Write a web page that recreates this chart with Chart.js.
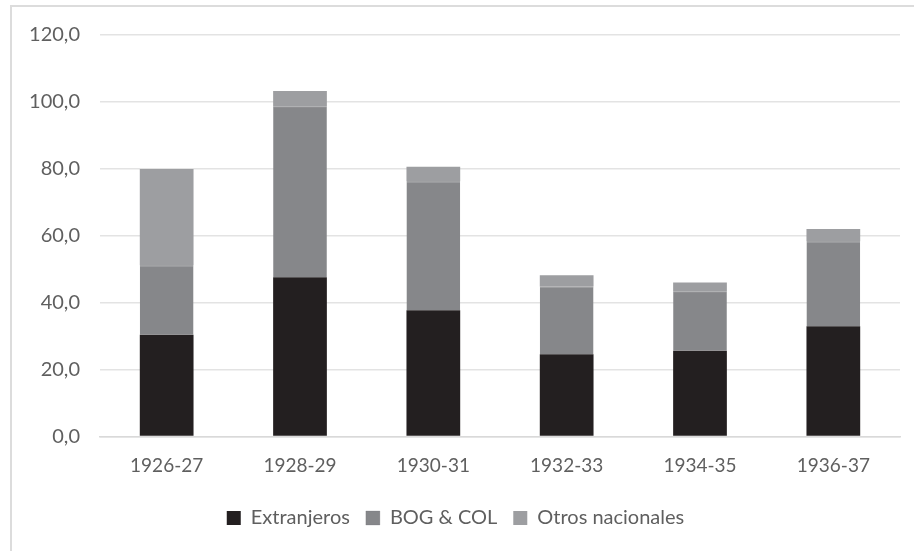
<!DOCTYPE html>
<html>
<head>
<meta charset="utf-8">
<script src="https://cdn.jsdelivr.net/npm/chart.js@4"></script>
<style>
  html, body { margin: 0; padding: 0; background: #fff; }
  #wrap { position: relative; width: 914px; height: 551px; overflow: hidden; }
  #frame { position: absolute; left: 10px; top: 5px; width: 1200px; height: 1200px;
           border-left: 2px solid #dcdcdc; border-top: 2px solid #dcdcdc; }
  #c { position: absolute; left: 0; top: 0; }
</style>
</head>
<body>
<div id="wrap">
  <div id="frame"></div>
  <canvas id="c" width="914" height="551"></canvas>
</div>
<script>
const categories = ['1926-27', '1928-29', '1930-31', '1932-33', '1934-35', '1936-37'];
const extranjeros = [30.4, 47.5, 37.7, 24.6, 25.6, 32.9];
const bogCol = [20.7, 50.9, 38.5, 20.2, 17.6, 25.4];
const otrosNacionales = [28.7, 4.7, 4.3, 3.3, 2.8, 3.6];
const yTicks = [0, 20, 40, 60, 80, 100, 120];

const FONT = 'Lato, "Open Sans", sans-serif';
const TEXT = '#5f5f5f';

new Chart(document.getElementById('c'), {
  type: 'bar',
  data: {
    labels: categories,
    datasets: [
      { label: 'Extranjeros', data: extranjeros, backgroundColor: '#231f20',
        borderColor: '#231f20', borderWidth: 0 },
      { label: 'BOG & COL', data: bogCol, backgroundColor: '#86878a',
        borderColor: '#6d6e71', borderWidth: { top: 1, left: 0, right: 0, bottom: 0 }, borderSkipped: false },
      { label: 'Otros nacionales', data: otrosNacionales, backgroundColor: '#9d9ea1',
        borderColor: '#9d9ea1', borderWidth: 0 }
    ]
  },
  options: {
    responsive: false,
    animation: false,
    devicePixelRatio: 1,
    layout: { padding: { left: 11, top: 34.3, right: 14, bottom: 13 } },
    datasets: { bar: { categoryPercentage: 1, barPercentage: 0.403 } },
    plugins: {
      tooltip: { enabled: false },
      legend: {
        position: 'bottom',
        onClick: null,
        labels: {
          boxWidth: 14, boxHeight: 14, padding: 16,
          color: TEXT,
          font: { family: FONT, size: 20 }
        }
      }
    },
    scales: {
      x: {
        stacked: true,
        grid: { display: false, drawTicks: false },
        border: { display: true, color: '#d9d9d9', width: 1.5 },
        ticks: { color: TEXT, font: { family: FONT, size: 19 }, padding: 18, maxRotation: 0 },
        afterFit(scale) { scale.height = 55.4; }
      },
      y: {
        stacked: true,
        min: 0, max: 120,
        afterBuildTicks(scale) { scale.ticks = yTicks.map(v => ({ value: v })); },
        grid: { color: '#e3e3e3', lineWidth: 1.5, drawTicks: false },
        border: { display: false },
        ticks: {
          color: TEXT, font: { family: FONT, size: 20 }, padding: 20,
          callback: v => v.toFixed(1).replace('.', ',')
        },
        afterFit(scale) { scale.width = 89; }
      }
    }
  }
});
</script>
</body>
</html>
